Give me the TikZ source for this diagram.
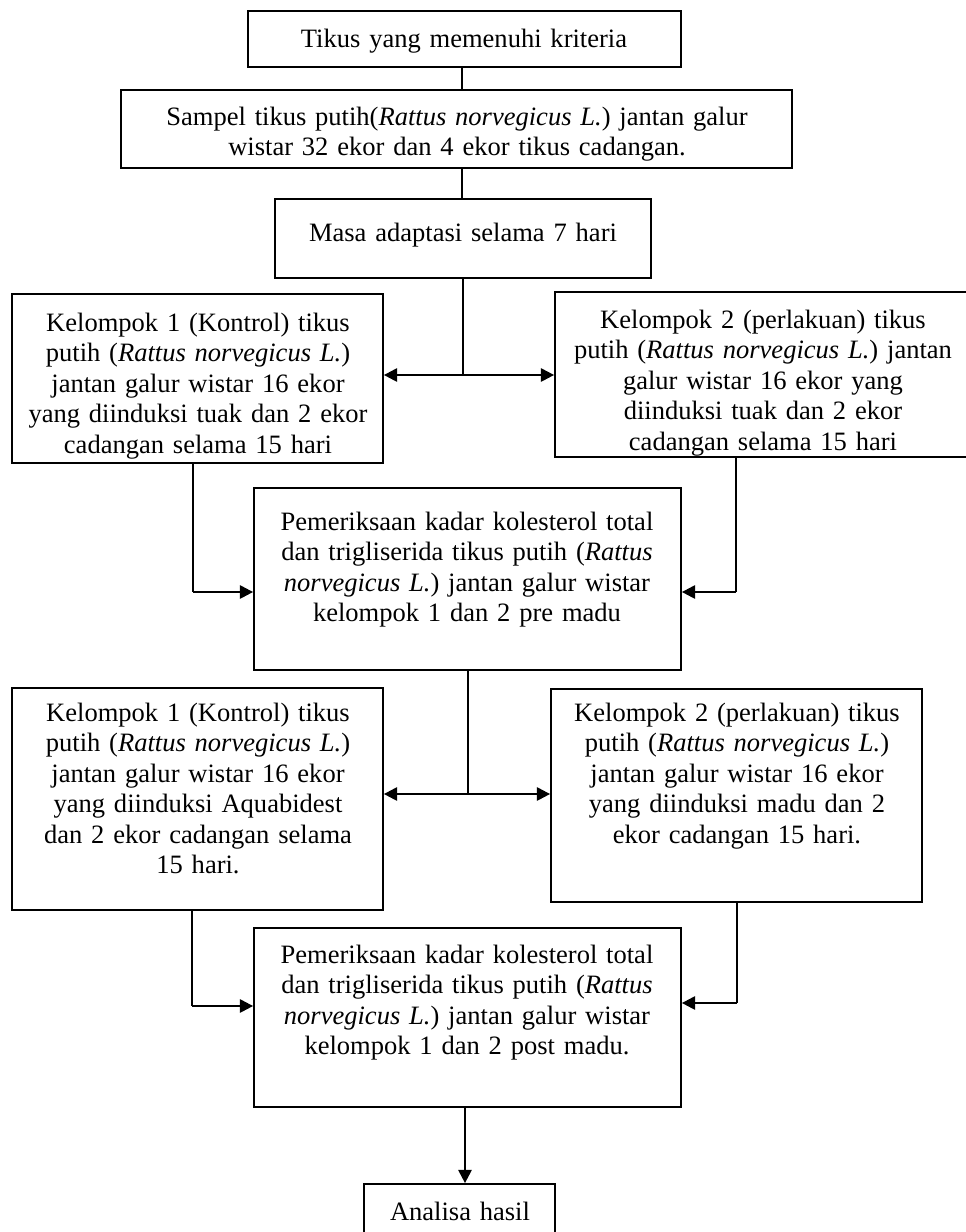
\documentclass[tikz,border=0pt]{standalone}
\usepackage{fontspec}
\setmainfont{Liberation Serif}
\usetikzlibrary{fit, arrows.meta}

\tikzset{
  kotak/.style={draw, line width=0.8pt, inner sep=0pt},
  isi/.style={anchor=base, align=center, inner sep=0pt, font=\fontsize{12pt}{13.8pt}\selectfont},
  garis/.style={line width=0.55pt},
  panah/.style={line width=1pt, -{Triangle[length=6pt,width=6pt]}},
}

\begin{document}
\begin{tikzpicture}[x=0.4524pt, y=-0.4524pt]
  % 1. Batas gambar (satuan = piksel gambar asli)
  \useasboundingbox (0,0) rectangle (966,1232);
  \clip (0,0) rectangle (966,1232);

  % 2. Kotak-kotak: nama / pojok kiri atas / pojok kanan bawah
  \foreach \nama/\xa/\ya/\xb/\yb in {
      tikus/248/11/681/67, sampel/121/90/792/168, adaptasi/275/199/651/278,
      kontrolA/12/294/383/463, perlakuanA/555/292/975/457, preMadu/254/488/681/670,
      kontrolB/12/688/383/910, perlakuanB/551/689/922/902, postMadu/254/928/681/1107,
      analisa/364/1184/555/1245} {
    \node[kotak, fit={(\xa,\ya) (\xb,\yb)}] (\nama) {};
  }

  % 3. Isi teks tiap kotak (baris pertama pada garis dasar yang diberikan)
  \node[isi, text width=427*0.4524pt] (tikus-teks) at (464,47) {Tikus yang memenuhi kriteria};
  \node[isi, text width=665*0.4524pt] (sampel-teks) at (457,125)
    {Sampel tikus putih(\textit{Rattus norvegicus L.}) jantan galur\\ wistar 32 ekor dan 4 ekor tikus cadangan.};
  \node[isi, text width=370*0.4524pt] (adaptasi-teks) at (463,241) {Masa adaptasi selama 7 hari};
  \node[isi, text width=365*0.4524pt] (kontrolA-teks) at (198,331)
    {Kelompok 1 (Kontrol) tikus\\ putih (\textit{Rattus norvegicus L.})\\ jantan galur wistar 16 ekor\\ yang diinduksi tuak dan 2 ekor\\ cadangan selama 15 hari};
  \node[isi, text width=414*0.4524pt] (perlakuanA-teks) at (763,328)
    {Kelompok 2 (perlakuan) tikus\\ putih (\textit{Rattus norvegicus L.}) jantan\\ galur wistar 16 ekor yang\\ diinduksi tuak dan 2 ekor\\ cadangan selama 15 hari};
  \node[isi, text width=421*0.4524pt] (preMadu-teks) at (467,530)
    {Pemeriksaan kadar kolesterol total\\ dan trigliserida tikus putih (\textit{Rattus}\\ \textit{norvegicus L.}) jantan galur wistar\\ kelompok 1 dan 2 pre madu};
  \node[isi, text width=365*0.4524pt] (kontrolB-teks) at (198,721)
    {Kelompok 1 (Kontrol) tikus\\ putih (\textit{Rattus norvegicus L.})\\ jantan galur wistar 16 ekor\\ yang diinduksi Aquabidest\\ dan 2 ekor cadangan selama\\ 15 hari.};
  \node[isi, text width=365*0.4524pt] (perlakuanB-teks) at (737,721)
    {Kelompok 2 (perlakuan) tikus\\ putih (\textit{Rattus norvegicus L.})\\ jantan galur wistar 16 ekor\\ yang diinduksi madu dan 2\\ ekor cadangan 15 hari.};
  \node[isi, text width=421*0.4524pt] (postMadu-teks) at (467,963)
    {Pemeriksaan kadar kolesterol total\\ dan trigliserida tikus putih (\textit{Rattus}\\ \textit{norvegicus L.}) jantan galur wistar\\ kelompok 1 dan 2 post madu.};
  \node[isi, text width=185*0.4524pt] (analisa-teks) at (460,1220) {Analisa hasil};

  % 4. Garis lurus di bagian atas
  \coordinate (s1) at (462,0);
  \draw[garis] (tikus.south -| s1) -- (sampel.north -| s1);
  \draw[garis] (sampel.south -| s1) -- (adaptasi.north -| s1);

  % 5. Cabang pertama ke kelompok 1 dan 2
  \coordinate (j1) at (463,375);
  \draw[garis] (adaptasi.south -| j1) -- (j1);
  \draw[panah] (j1) -- (j1 -| kontrolA.east);
  \draw[panah] (j1) -- (j1 -| perlakuanA.west);

  % 6. Kedua kelompok ke pemeriksaan pre madu
  \coordinate (b1) at (193,592);
  \coordinate (b2) at (736,592);
  \draw[garis] (kontrolA.south -| b1) -- (b1);
  \draw[panah] (b1) -- (b1 -| preMadu.west);
  \draw[garis] (perlakuanA.south -| b2) -- (b2);
  \draw[panah] (b2) -- (b2 -| preMadu.east);

  % 7. Cabang kedua
  \coordinate (j2) at (468,794);
  \draw[garis] (preMadu.south -| j2) -- (j2);
  \draw[panah] (j2) -- (j2 -| kontrolB.east);
  \draw[panah] (j2) -- (j2 -| perlakuanB.west);

  % 8. Kedua kelompok ke pemeriksaan post madu
  \coordinate (b3) at (192,1006);
  \coordinate (b4) at (737,1003);
  \draw[garis] (kontrolB.south -| b3) -- (b3);
  \draw[panah] (b3) -- (b3 -| postMadu.west);
  \draw[garis] (perlakuanB.south -| b4) -- (b4);
  \draw[panah] (b4) -- (b4 -| postMadu.east);

  % 9. Ke analisa hasil
  \coordinate (s2) at (465,0);
  \draw[panah] (postMadu.south -| s2) -- (analisa.north -| s2);
\end{tikzpicture}
\end{document}
